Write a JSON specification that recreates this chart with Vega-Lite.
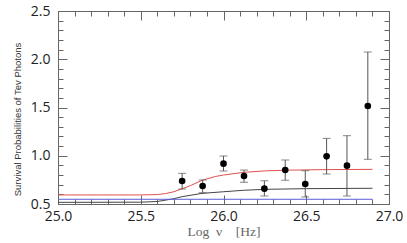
{
  "$schema": "https://vega.github.io/schema/vega-lite/v6.json",
  "width": 331,
  "height": 193,
  "autosize": {"type": "none"},
  "padding": {"left": 58, "top": 11, "right": 18, "bottom": 39},
  "background": "white",
  "config": {
    "view": {"stroke": "#666", "strokeWidth": 1},
    "axis": {
      "grid": false,
      "domainColor": "#666",
      "tickColor": "#666",
      "labelFont": "Open Sans",
      "labelFontSize": 14,
      "labelColor": "#222",
      "labelOverlap": false,
      "labelFlush": false,
      "labelBound": false
    }
  },
  "datasets": {
    "curves": [
      {"series": "red", "x": 25.0, "y": 0.594},
      {"series": "red", "x": 25.5, "y": 0.594},
      {"series": "red", "x": 25.6, "y": 0.598},
      {"series": "red", "x": 25.65, "y": 0.608},
      {"series": "red", "x": 25.7, "y": 0.627},
      {"series": "red", "x": 25.8, "y": 0.69},
      {"series": "red", "x": 25.87, "y": 0.745},
      {"series": "red", "x": 25.95, "y": 0.785},
      {"series": "red", "x": 26.0, "y": 0.8},
      {"series": "red", "x": 26.12, "y": 0.828},
      {"series": "red", "x": 26.25, "y": 0.843},
      {"series": "red", "x": 26.4, "y": 0.851},
      {"series": "red", "x": 26.6, "y": 0.856},
      {"series": "red", "x": 26.9, "y": 0.859},
      {"series": "black", "x": 25.0, "y": 0.517},
      {"series": "black", "x": 25.5, "y": 0.519},
      {"series": "black", "x": 25.6, "y": 0.526},
      {"series": "black", "x": 25.7, "y": 0.555},
      {"series": "black", "x": 25.75, "y": 0.576},
      {"series": "black", "x": 25.87, "y": 0.61},
      {"series": "black", "x": 26.0, "y": 0.627},
      {"series": "black", "x": 26.12, "y": 0.642},
      {"series": "black", "x": 26.25, "y": 0.652},
      {"series": "black", "x": 26.5, "y": 0.659},
      {"series": "black", "x": 26.9, "y": 0.663},
      {"series": "blue", "x": 25.0, "y": 0.549},
      {"series": "blue", "x": 26.9, "y": 0.549}
    ],
    "points": [
      {"x": 25.75, "y": 0.738, "lo": 0.655, "hi": 0.818},
      {"x": 25.874, "y": 0.687, "lo": 0.617, "hi": 0.749},
      {"x": 26.0, "y": 0.918, "lo": 0.842, "hi": 0.997},
      {"x": 26.124, "y": 0.79, "lo": 0.725, "hi": 0.852},
      {"x": 26.247, "y": 0.659, "lo": 0.583, "hi": 0.741},
      {"x": 26.373, "y": 0.852, "lo": 0.746, "hi": 0.956},
      {"x": 26.494, "y": 0.707, "lo": 0.573, "hi": 0.845},
      {"x": 26.623, "y": 0.994, "lo": 0.811, "hi": 1.18},
      {"x": 26.746, "y": 0.897, "lo": 0.583, "hi": 1.208},
      {"x": 26.872, "y": 1.516, "lo": 0.963, "hi": 2.075}
    ]
  },
  "resolve": {"axis": {"x": "independent", "y": "independent"}},
  "layer": [
    {
      "data": {"name": "curves"},
      "transform": [{"filter": "datum.series === 'red'"}],
      "mark": {"type": "line", "color": "#e0504f", "strokeWidth": 1},
      "encoding": {
        "x": {
          "field": "x", "type": "quantitative",
          "scale": {"domain": [25, 27], "nice": false, "zero": false},
          "axis": {
            "orient": "bottom",
            "title": "Log\u2002\u03bd\u2002\u2002[Hz]",
            "titleFont": "Liberation Serif",
            "titleFontSize": 13.5,
            "titleFontWeight": "normal",
            "titleColor": "#666",
            "titlePadding": -3,
            "values": [25.0,25.1,25.2,25.3,25.4,25.5,25.6,25.7,25.8,25.9,26.0,26.1,26.2,26.3,26.4,26.5,26.6,26.7,26.8,26.9,27.0],
            "tickSize": {"condition": {"test": "abs(datum.value*2 - round(datum.value*2)) < 0.01", "value": -9}, "value": -5},
            "labelExpr": "abs(datum.value*2 - round(datum.value*2)) < 0.01 ? format(datum.value, '.1f') : ''",
            "labelPadding": 14
          }
        },
        "y": {
          "field": "y", "type": "quantitative",
          "scale": {"domain": [0.5, 2.5], "nice": false, "zero": false},
          "axis": {
            "orient": "left",
            "title": "Survival Probabilities of Tev Photons",
            "titleFont": "Liberation Sans",
            "titleFontSize": 9.5,
            "titleFontWeight": "normal",
            "titleColor": "#333",
            "titlePadding": 8,
            "titleY": 108,
            "values": [0.5,0.6,0.7,0.8,0.9,1.0,1.1,1.2,1.3,1.4,1.5,1.6,1.7,1.8,1.9,2.0,2.1,2.2,2.3,2.4,2.5],
            "tickSize": {"condition": {"test": "abs(datum.value*2 - round(datum.value*2)) < 0.01", "value": -9}, "value": -5},
            "labelExpr": "abs(datum.value*2 - round(datum.value*2)) < 0.01 ? format(datum.value, '.1f') : ''",
            "labelPadding": 17
          }
        }
      }
    },
    {
      "data": {"name": "curves"},
      "transform": [{"filter": "datum.series === 'black'"}],
      "mark": {"type": "line", "color": "#444", "strokeWidth": 1},
      "encoding": {
        "x": {
          "field": "x", "type": "quantitative",
          "axis": {
            "orient": "top",
            "title": null,
            "labels": false,
            "values": [25.0,25.1,25.2,25.3,25.4,25.5,25.6,25.7,25.8,25.9,26.0,26.1,26.2,26.3,26.4,26.5,26.6,26.7,26.8,26.9,27.0],
            "tickSize": {"condition": {"test": "abs(datum.value*2 - round(datum.value*2)) < 0.01", "value": -9}, "value": -5}
          }
        },
        "y": {
          "field": "y", "type": "quantitative",
          "axis": {
            "orient": "right",
            "title": null,
            "labels": false,
            "values": [0.5,0.6,0.7,0.8,0.9,1.0,1.1,1.2,1.3,1.4,1.5,1.6,1.7,1.8,1.9,2.0,2.1,2.2,2.3,2.4,2.5],
            "tickSize": {"condition": {"test": "abs(datum.value*2 - round(datum.value*2)) < 0.01", "value": -9}, "value": -5}
          }
        }
      }
    },
    {
      "data": {"name": "curves"},
      "transform": [{"filter": "datum.series === 'blue'"}],
      "mark": {"type": "line", "color": "#5b5bd6", "strokeWidth": 1},
      "encoding": {
        "x": {"field": "x", "type": "quantitative", "axis": null},
        "y": {"field": "y", "type": "quantitative", "axis": null}
      }
    },
    {
      "data": {"name": "points"},
      "mark": {"type": "rule", "color": "#555", "strokeWidth": 1},
      "encoding": {
        "x": {"field": "x", "type": "quantitative", "axis": null},
        "y": {"field": "lo", "type": "quantitative", "axis": null},
        "y2": {"field": "hi"}
      }
    },
    {
      "data": {"name": "points"},
      "mark": {"type": "tick", "orient": "horizontal", "color": "#555", "size": 8, "thickness": 1},
      "encoding": {
        "x": {"field": "x", "type": "quantitative", "axis": null},
        "y": {"field": "lo", "type": "quantitative", "axis": null}
      }
    },
    {
      "data": {"name": "points"},
      "mark": {"type": "tick", "orient": "horizontal", "color": "#555", "size": 8, "thickness": 1},
      "encoding": {
        "x": {"field": "x", "type": "quantitative", "axis": null},
        "y": {"field": "hi", "type": "quantitative", "axis": null}
      }
    },
    {
      "data": {"name": "points"},
      "mark": {"type": "circle", "color": "black", "size": 44, "opacity": 1},
      "encoding": {
        "x": {"field": "x", "type": "quantitative", "axis": null},
        "y": {"field": "y", "type": "quantitative", "axis": null}
      }
    }
  ]
}
